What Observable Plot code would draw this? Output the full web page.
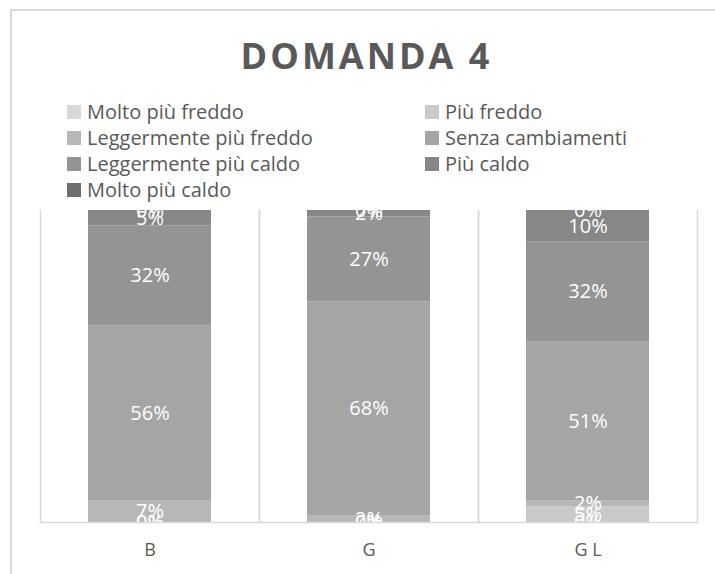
<!DOCTYPE html>
<html>
<head>
<meta charset="utf-8">
<script src="https://cdn.jsdelivr.net/npm/d3@7"></script>
<script src="https://cdn.jsdelivr.net/npm/@observablehq/plot@0.6"></script>
<style>
  html, body { margin: 0; padding: 0; background: #fff; }
  #wrap { position: relative; width: 715px; height: 574px; overflow: hidden; font-family: "Open Sans", sans-serif; }
  #border { position: absolute; left: 10px; top: 9px; width: 760px; height: 640px; border-left: 2px solid #d9d9d9; border-top: 2px solid #d9d9d9; }
  #title { position: absolute; left: 9px; width: 715px; top: 38px; text-align: center; font-size: 36px; line-height: 36px; font-weight: 700; letter-spacing: 3px; color: #595959; }
  #legend { position: absolute; left: 67px; top: 99px; display: grid; grid-template-columns: 358px auto; font-size: 20px; line-height: 26px; color: #595959; }
  #legend .sw { display: inline-block; width: 14px; height: 14px; margin-right: 6px; vertical-align: baseline; }
  #chart { position: absolute; left: 0; top: 200px; }
</style>
</head>
<body>
<div id="wrap">
  <div id="border"></div>
  <div id="chart"></div>
  <div id="title">DOMANDA 4</div>
  <div id="legend"></div>
</div>
<script>
const title = "DOMANDA 4";
const categories = ["B", "G", "G L"];
const series = ["Molto più freddo", "Più freddo", "Leggermente più freddo", "Senza cambiamenti", "Leggermente più caldo", "Più caldo", "Molto più caldo"];
const valuesB = [0, 0, 7, 56, 32, 5, 0];
const valuesG = [0, 0, 2, 68, 27, 2, 0];
const valuesGL = [0, 5, 2, 51, 32, 10, 0];
const colors = ["#d9d9d9", "#c9c9c9", "#b7b7b7", "#a5a5a5", "#949494", "#878787", "#6f6f6f"];

const valueRows = [valuesB, valuesG, valuesGL];
const data = [];
categories.forEach((cat, i) => {
  series.forEach((s, j) => data.push({cat, series: s, value: valueRows[i][j]}));
});

const chart = Plot.plot({
  width: 715,
  height: 374,
  marginTop: 10,
  marginBottom: 52,
  marginLeft: 40,
  marginRight: 18,
  style: {fontFamily: "Open Sans", fontSize: "18px", color: "#595959", background: "transparent", overflow: "visible"},
  facet: {data, x: "cat"},
  fx: {domain: categories, padding: 0, label: null, axis: "bottom", tickSize: 0, tickPadding: 21},
  y: {axis: null, domain: [0, 1]},
  color: {domain: series, range: colors},
  marks: [
    Plot.barY(data, Plot.stackY({y: "value", z: "series", fill: "series", offset: "normalize", insetLeft: 48, insetRight: 48})),
    Plot.text(data, Plot.stackY({y: "value", z: "series", offset: "normalize", text: d => `${d.value}%`, fill: "white", fontSize: 20, clip: true})),
    Plot.frame({anchor: "left", stroke: "#d9d9d9", strokeWidth: 1.5}),
    Plot.frame({anchor: "right", stroke: "#d9d9d9", strokeWidth: 1.5}),
    Plot.frame({anchor: "bottom", stroke: "#d9d9d9", strokeWidth: 1.5})
  ]
});
document.getElementById("chart").appendChild(chart);

const legend = document.getElementById("legend");
series.forEach((s, i) => {
  const item = document.createElement("div");
  const sw = document.createElement("span");
  sw.className = "sw";
  sw.style.background = colors[i];
  item.appendChild(sw);
  item.appendChild(document.createTextNode(s));
  legend.appendChild(item);
});
</script>
</body>
</html>
